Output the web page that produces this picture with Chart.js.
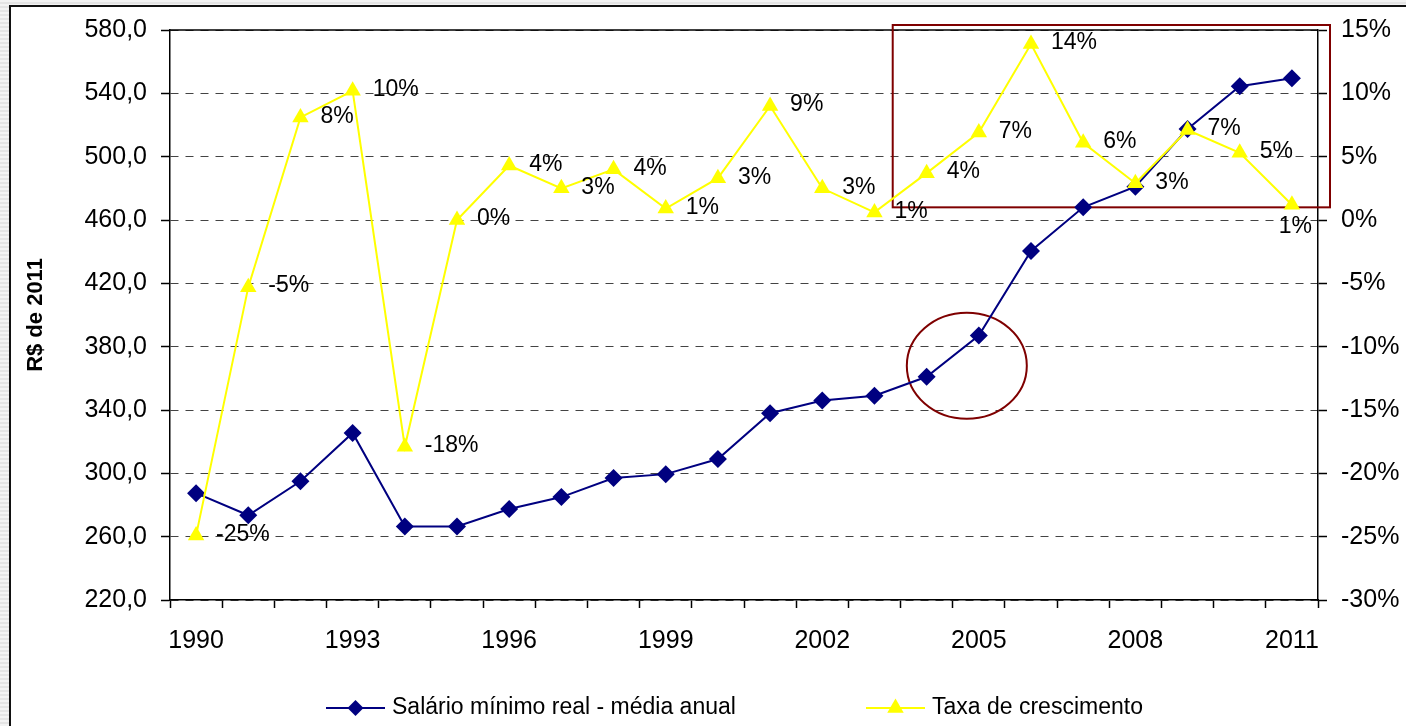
<!DOCTYPE html>
<html lang="pt-BR">
<head>
<meta charset="UTF-8">
<title>Salário mínimo real</title>
<script src="https://cdn.jsdelivr.net/npm/chart.js"></script>
<style>
  html, body {margin: 0; padding: 0; overflow: hidden;}
  body {background: repeating-linear-gradient(180deg, #f3f3f3 0px, #f3f3f3 2px, #e4e4e4 2px, #e4e4e4 4px); width: 1406px; height: 726px;}
  #frame {position: absolute; left: 9px; top: 5px; width: 1397px; height: 721px; border-left: 2px solid #111; border-top: 2px solid #111; background: #fff;}
  #chart {display: block;}
</style>
</head>
<body>
<div id="frame"><canvas id="chart" width="1395" height="719"></canvas></div>
<script>
// dados
const anos = ['1990','1991','1992','1993','1994','1995','1996','1997','1998','1999','2000',
              '2001','2002','2003','2004','2005','2006','2007','2008','2009','2010','2011'];
const anosRotulo = ['1990','1993','1996','1999','2002','2005','2008','2011'];
const salario = [287.5, 273.5, 295, 325.5, 266.5, 266.5, 277.5, 285, 297, 299.5, 309,
                 338, 346, 349, 361, 387, 440.5, 468, 481, 517.5, 544.5, 549.5];
const taxa = [-24.9, -5.3, 8.1, 10.2, -17.9, 0.0, 4.3, 2.5, 4.0, 0.9, 3.3,
              9.0, 2.5, 0.6, 3.7, 6.9, 13.9, 6.1, 2.9, 7.1, 5.3, 1.2];

const FONTE = '"Liberation Sans", Arial, sans-serif';
Chart.defaults.font.family = FONTE;
Chart.defaults.color = '#000';

// rotulos de % ao lado dos triangulos
const rotulosTaxa = {
  id: 'rotulosTaxa',
  afterDatasetsDraw(chart) {
    const meta = chart.getDatasetMeta(1);
    const ctx = chart.ctx;
    ctx.save();
    ctx.font = '23px ' + FONTE;
    ctx.fillStyle = '#000';
    ctx.textBaseline = 'middle';
    meta.data.forEach((pt, i) => {
      const txt = Math.round(taxa[i]) + '%';
      const w = ctx.measureText(txt).width;
      if (pt.x + 20 + w > chart.chartArea.right) {
        ctx.textAlign = 'right';
        ctx.fillText(txt, pt.x + 20, pt.y + 22);
      } else {
        ctx.textAlign = 'left';
        ctx.fillText(txt, pt.x + 20, pt.y - 1);
      }
    });
    ctx.restore();
  }
};

// moldura da area do grafico + destaques em vermelho
const destaques = {
  id: 'destaques',
  beforeDatasetsDraw(chart) {
    const {ctx, chartArea, scales} = chart;
    const x = scales.x;
    const passo = x.getPixelForValue(1) - x.getPixelForValue(0);
    ctx.save();
    ctx.strokeStyle = '#000';
    ctx.lineWidth = 1.5;
    ctx.beginPath();
    ctx.moveTo(chartArea.left, chartArea.top);
    ctx.lineTo(chartArea.right, chartArea.top);
    ctx.stroke();

    ctx.strokeStyle = '#7f0000';
    ctx.lineWidth = 2;
    const rx0 = x.getPixelForValue(13) + 0.35 * passo;
    const rx1 = chartArea.right + 12;
    const ry0 = chartArea.top - 5;
    const ry1 = scales.y1.getPixelForValue(1);
    ctx.strokeRect(rx0, ry0, rx1 - rx0, ry1 - ry0);

    const cx = x.getPixelForValue(14) + 0.77 * passo;
    const cy = scales.y.getPixelForValue(368);
    ctx.beginPath();
    ctx.ellipse(cx, cy, 60, 53, 0, 0, Math.PI * 2);
    ctx.stroke();
    ctx.restore();
  }
};

// legenda com linha + marcador
function marcador(ctx, estilo, cx, cy) {
  ctx.beginPath();
  if (estilo === 'rectRot') {
    const r = 8;
    ctx.moveTo(cx, cy - r); ctx.lineTo(cx + r, cy); ctx.lineTo(cx, cy + r); ctx.lineTo(cx - r, cy);
  } else {
    const r = 9.5;
    ctx.moveTo(cx, cy - r);
    ctx.lineTo(cx + r * Math.sin(2 * Math.PI / 3), cy - r * Math.cos(2 * Math.PI / 3));
    ctx.lineTo(cx + r * Math.sin(4 * Math.PI / 3), cy - r * Math.cos(4 * Math.PI / 3));
  }
  ctx.closePath();
  ctx.fill();
}

const legenda = {
  id: 'legenda',
  afterDraw(chart) {
    const ctx = chart.ctx;
    const yc = chart.height - 18;
    const itens = [{ds: 0, x: 315}, {ds: 1, x: 855}];
    ctx.save();
    ctx.font = '23px ' + FONTE;
    ctx.textBaseline = 'middle';
    ctx.textAlign = 'left';
    itens.forEach(it => {
      const ds = chart.data.datasets[it.ds];
      ctx.strokeStyle = ds.borderColor;
      ctx.fillStyle = ds.borderColor;
      ctx.lineWidth = 2;
      ctx.beginPath();
      ctx.moveTo(it.x, yc);
      ctx.lineTo(it.x + 59, yc);
      ctx.stroke();
      marcador(ctx, ds.pointStyle, it.x + 29.5, yc);
      ctx.fillStyle = '#000';
      ctx.fillText(ds.label, it.x + 66, yc);
    });
    ctx.restore();
  }
};

new Chart(document.getElementById('chart'), {
  type: 'line',
  data: {
    labels: anos,
    datasets: [
      {
        label: 'Salário mínimo real - média anual',
        data: salario,
        yAxisID: 'y',
        borderColor: '#000080',
        backgroundColor: '#000080',
        borderWidth: 2,
        pointStyle: 'rectRot',
        pointRadius: 9,
        pointBorderWidth: 0,
        tension: 0,
        order: 1
      },
      {
        label: 'Taxa de crescimento',
        data: taxa,
        yAxisID: 'y1',
        borderColor: '#ffff00',
        backgroundColor: '#ffff00',
        borderWidth: 2,
        pointStyle: 'triangle',
        pointRadius: 9.5,
        pointBorderWidth: 0,
        tension: 0,
        order: 0
      }
    ]
  },
  options: {
    responsive: false,
    animation: false,
    devicePixelRatio: 1,
    layout: {padding: {top: 23, right: 0, bottom: 70, left: 0}},
    plugins: {legend: {display: false}, tooltip: {enabled: false}},
    scales: {
      x: {
        type: 'category',
        offset: true,
        grid: {offset: true, drawOnChartArea: false, drawTicks: true, tickLength: 8, tickColor: '#000', tickWidth: 1.5, color: '#000'},
        border: {color: '#000', width: 1.5},
        ticks: {
          autoSkip: false, maxRotation: 0, minRotation: 0, padding: 18,
          font: {size: 25}, color: '#000',
          callback(v, i) { return anosRotulo.includes(anos[i]) ? anos[i] : ''; }
        },
        afterFit(s) { s.height = 56; }
      },
      y: {
        position: 'left',
        min: 220, max: 580,
        ticks: {stepSize: 40, padding: 14, font: {size: 25}, color: '#000',
                callback: v => v.toFixed(1).replace('.', ',')},
        grid: {color: '#444', lineWidth: 1, tickLength: 9, tickColor: '#000', tickWidth: 1.5, tickBorderDash: []},
        border: {dash: [8, 7], color: '#000', width: 1.5},
        title: {display: true, text: 'R$ de 2011', color: '#000', font: {size: 22, weight: 'bold'}, padding: {top: 12, bottom: 0}},
        afterFit(s) { s.width = 159; s.paddingTop = 0; s.paddingBottom = 0; }
      },
      y1: {
        position: 'right',
        min: -30, max: 15,
        ticks: {stepSize: 5, padding: 14, font: {size: 25}, color: '#000', callback: v => v + '%'},
        grid: {drawOnChartArea: false, tickLength: 9, tickColor: '#000', tickWidth: 1.5},
        border: {color: '#000', width: 1.5},
        afterFit(s) { s.width = 88; s.paddingTop = 0; s.paddingBottom = 0; }
      }
    }
  },
  plugins: [destaques, rotulosTaxa, legenda]
});
</script>
</body>
</html>
